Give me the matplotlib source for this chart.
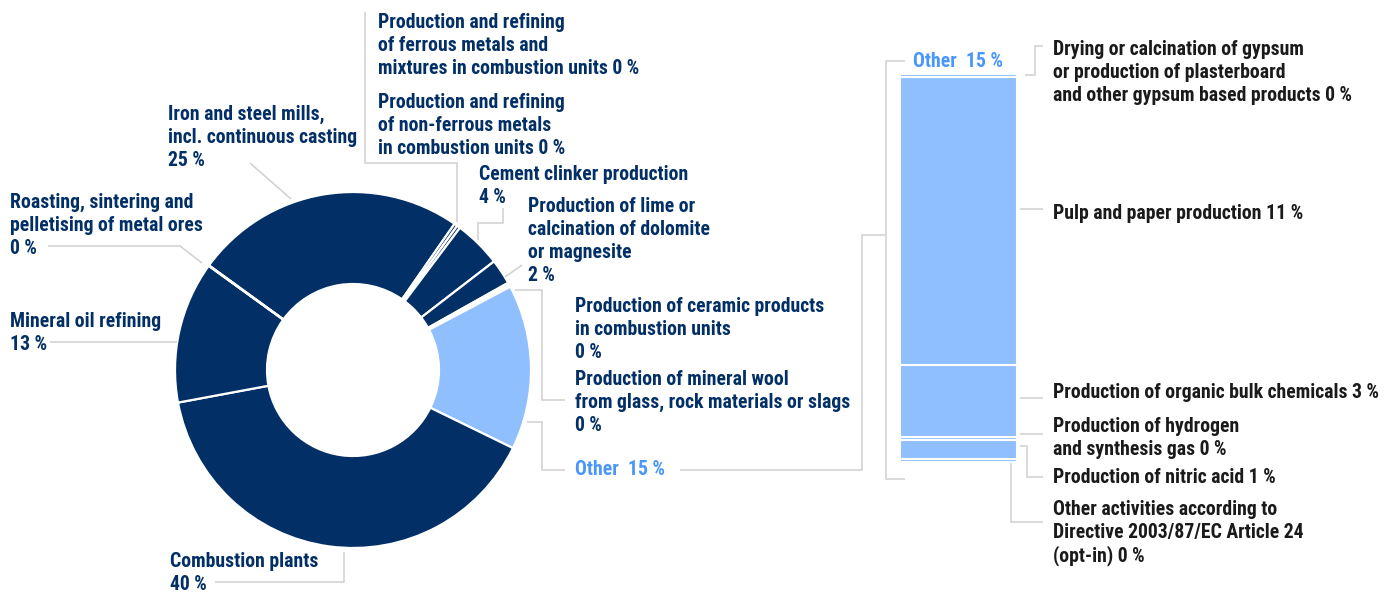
import matplotlib
matplotlib.use("Agg")
import matplotlib.pyplot as plt
from matplotlib import font_manager

# donut: sectors, clockwise from the top left
sectors = ["Iron and steel mills", "Ferrous metals", "Non-ferrous metals", "Cement clinker",
           "Lime / dolomite", "Ceramic products", "Mineral wool", "Other",
           "Combustion plants", "Mineral oil refining", "Roasting / sintering"]
shares = [24.7, 0.3, 0.3, 4.3, 2.3, 0.2, 0.2, 15.0, 39.9, 12.9, 0.05]
is_other = [False, False, False, False, False, False, False, True, False, False, False]

# breakdown of "Other", bottom to top
other_parts = ["Opt-in", "Nitric acid", "Hydrogen", "Organic bulk chemicals", "Pulp and paper", "Gypsum"]
other_shares = [0.12, 0.7, 0.12, 2.7, 10.8, 0.12]

left_labels = [
    "Production and refining\nof ferrous metals and\nmixtures in combustion units 0 %",
    "Production and refining\nof non-ferrous metals\nin combustion units 0 %",
    "Cement clinker production\n4 %",
    "Production of lime or\ncalcination of dolomite\nor magnesite\n2 %",
    "Production of ceramic products\nin combustion units\n0 %",
    "Production of mineral wool\nfrom glass, rock materials or slags\n0 %",
    "Iron and steel mills,\nincl. continuous casting\n25 %",
    "Roasting, sintering and\npelletising of metal ores\n0 %",
    "Mineral oil refining\n13 %",
    "Combustion plants\n40 %",
]
right_labels = [
    "Drying or calcination of gypsum\nor production of plasterboard\nand other gypsum based products 0 %",
    "Pulp and paper production 11 %",
    "Production of organic bulk chemicals 3 %",
    "Production of hydrogen\nand synthesis gas 0 %",
    "Production of nitric acid 1 %",
    "Other activities according to\nDirective 2003/87/EC Article 24\n(opt-in) 0 %",
]
other_label = "Other  15 %"

NAVY = "#022f66"
LIGHT = "#8fbfff"
OTHER_TXT = "#4a97fb"
GREY = "#d3d3d3"

fam = "DejaVu Sans"
for f in ["Liberation Sans Narrow", "Roboto Condensed", "Open Sans Condensed"]:
    try:
        font_manager.findfont(f, fallback_to_default=False)
        fam = f
        break
    except Exception:
        pass
plt.rcParams["font.family"] = [fam, "DejaVu Sans"]

W, H = 1395, 593
fig = plt.figure(figsize=(W / 100, H / 100), dpi=100)
ax = fig.add_axes([0, 0, 1, 1])

cols = [LIGHT if o else NAVY for o in is_other]
ax.pie(shares, colors=cols, center=(353, 370), radius=178, startangle=-144,
       counterclock=True, wedgeprops=dict(width=92, edgecolor="white", linewidth=1.6))
ax.set_xlim(0, W)
ax.set_ylim(H, 0)
ax.set_aspect("auto")
ax.axis("off")

# stacked bar for "Other"
bx = fig.add_axes([900 / W, (H - 462) / H, 117 / W, 388 / H])
bottom = 0
for v in other_shares:
    bx.bar(0, v, bottom=bottom, width=1, color=LIGHT, edgecolor="white", linewidth=1.5)
    bottom += v
bx.set_xlim(-0.5, 0.5)
bx.set_ylim(0, bottom)
bx.axis("off")


def label(x, y, text, color=NAVY, size=14.2):
    for i, line in enumerate(text.split("\n")):
        ax.text(x, y + i * 23, line, color=color, fontsize=size, fontweight="bold",
                va="baseline", ha="left")


left_pos = [(378, 28), (378, 108), (479, 180), (528, 212), (575, 312), (575, 385),
            (168, 120), (10, 208), (10, 327), (170, 567)]
for (x, y), t in zip(left_pos, left_labels):
    label(x, y, t)
label(575, 475, other_label, OTHER_TXT)
label(913, 67, other_label, OTHER_TXT)

right_pos = [(1053, 55), (1053, 219), (1053, 398), (1053, 432), (1053, 483), (1053, 515)]
for (x, y), t in zip(right_pos, right_labels):
    label(x, y, t, color="#1a1a1a")

leaders = [
    [(365, 12), (365, 163), (457, 163), (457, 222)],
    [(503, 208), (503, 223), (478, 223), (478, 240)],
    [(505, 277), (522, 265)],
    [(515, 290), (542, 290), (542, 400), (565, 400)],
    [(527, 422), (542, 422), (542, 470), (565, 470)],
    [(680, 470), (862, 470), (862, 235), (885, 235)],
    [(905, 61), (886, 61), (886, 479), (905, 479)],
    [(250, 163), (291, 199)],
    [(48, 246), (180, 246), (202, 263)],
    [(50, 342), (177, 342)],
    [(215, 582), (344, 582), (344, 552)],
    [(1025, 75), (1035, 75), (1035, 46), (1043, 46)],
    [(1020, 209), (1043, 209)],
    [(1020, 398), (1043, 398)],
    [(1020, 434), (1043, 434)],
    [(1020, 446), (1027, 446), (1027, 477), (1043, 477)],
    [(1011, 463), (1011, 522), (1043, 522)],
]
for pts in leaders:
    xs, ys = zip(*pts)
    ax.plot(xs, ys, color=GREY, lw=1.2, solid_capstyle="butt", solid_joinstyle="miter")

fig.savefig("out.png", dpi=100)
